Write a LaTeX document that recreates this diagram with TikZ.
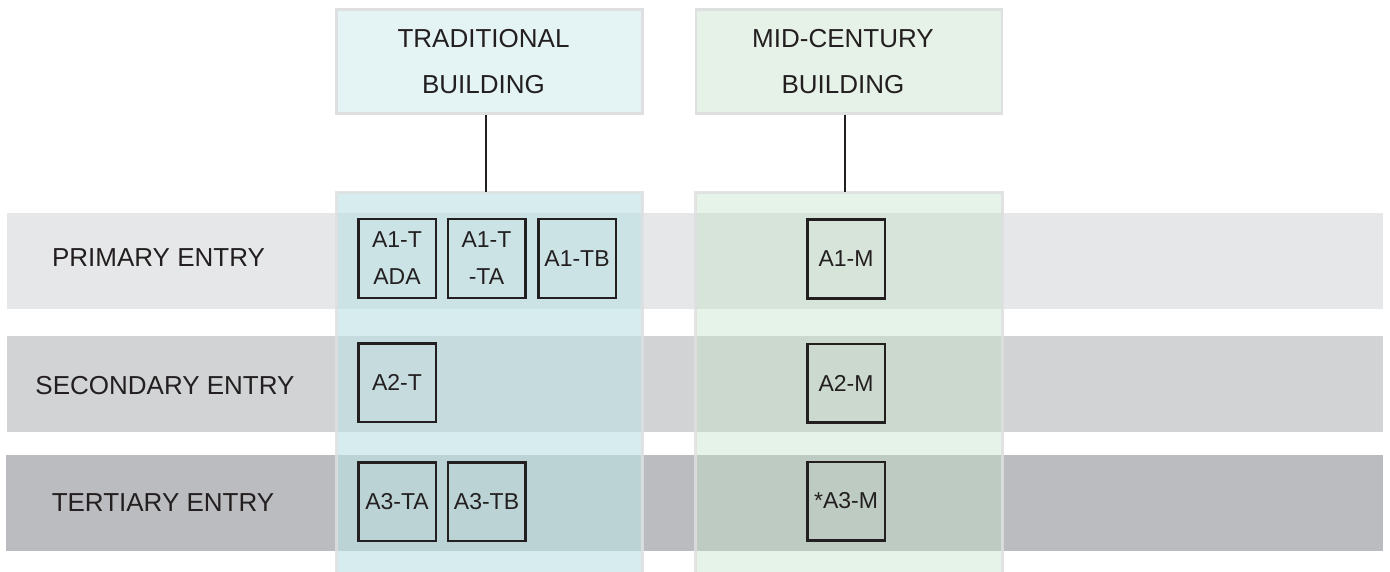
\documentclass[tikz,border=0pt]{standalone}
\usepackage{fontspec}
\setmainfont{Liberation Sans}
\definecolor{ink}{HTML}{231F20}
\definecolor{bandA}{HTML}{E6E7E8}
\definecolor{bandB}{HTML}{D1D3D4}
\definecolor{bandC}{HTML}{BBBCC0}
\definecolor{hdrTfill}{HTML}{E4F4F4}
\definecolor{hdrMfill}{HTML}{E6F2E8}
\definecolor{hdrline}{HTML}{DEDFE0}
\definecolor{colTfill}{RGB}{190,225,228}
\definecolor{colMfill}{RGB}{195,226,200}
\newcommand{\padR}{\hspace*{12pt}}
\tikzset{
  band/.style={fill=#1, draw=none},
  header/.style={draw=hdrline, line width=2.5pt, fill=#1, minimum height=104pt,
    minimum width=306pt, inner sep=0pt, align=center, text=ink,
    font=\fontsize{26}{46}\selectfont},
  column/.style={draw=hdrline, draw opacity=0.85, line width=3pt, fill=#1},
  rowlabel/.style={anchor=base, text=ink, inner sep=0pt, font=\fontsize{26}{31}\selectfont},
  unitbox/.style={draw=ink, line width=2.5pt, minimum width=77.5pt, minimum height=78.5pt,
    inner sep=0pt, align=center, text=ink, font=\fontsize{23}{37}\selectfont},
  link/.style={draw=ink, line width=1.6pt}
}
\begin{document}
\begin{tikzpicture}[x=1pt,y=-1pt]
\useasboundingbox (0,0) rectangle (1390,572);
% bands
\path[band=bandA] (7,213) rectangle (1383,309);
\path[band=bandB] (7,336) rectangle (1383,432);
\path[band=bandC] (6,455) rectangle (1383,551);
% columns
\path[column=colTfill, fill opacity=0.63] (336.5,192.5) rectangle (642.5,580);
\path[column=colMfill, fill opacity=0.42] (695.5,192.5) rectangle (1002.5,580);
\coordinate (colT) at (489.5,192.5);
\coordinate (colM) at (849,192.5);
% headers
\node[header=hdrTfill] (hdrT) at (489.5,61.5) {TRADITIONAL\padR\\BUILDING\padR};
\node[header=hdrMfill] (hdrM) at (849,61.5) {MID-CENTURY\padR\\BUILDING\padR};
\draw[link] ([xshift=-3.5pt]hdrT.south) -- ([xshift=-3.5pt]colT);
\draw[link] ([xshift=-4pt]hdrM.south) -- ([xshift=-4pt]colM);
% row labels
\node[rowlabel] (rowA) at (158.5,267) {PRIMARY ENTRY};
\node[rowlabel] (rowB) at (165,394) {SECONDARY ENTRY};
\node[rowlabel] (rowC) at (163,511) {TERTIARY ENTRY};
% unit boxes
\node[unitbox] (a1tada) at (397,258.5) {A1-T\\ADA};
\node[unitbox] (a1tta) at (486.5,258.5) {A1-T\\-TA};
\node[unitbox] (a1tb) at (577,258.5) {A1-TB};
\node[unitbox] (a1m) at (846,259) {A1-M};
\node[unitbox] (a2t) at (397,382.5) {A2-T};
\node[unitbox] (a2m) at (846,383) {A2-M};
\node[unitbox] (a3ta) at (397,501.5) {A3-TA};
\node[unitbox] (a3tb) at (486.5,501.5) {A3-TB};
\node[unitbox] (a3m) at (846,501) {*A3-M};
\end{tikzpicture}
\end{document}
